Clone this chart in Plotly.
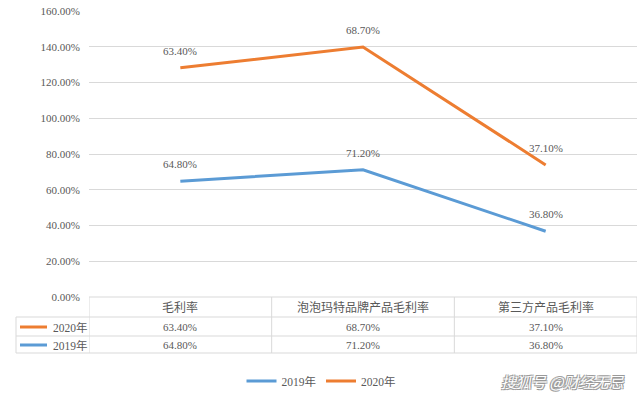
import plotly.graph_objects as go

categories = ["毛利率", "泡泡玛特品牌产品毛利率", "第三方产品毛利率"]
series_names = ["2019年", "2020年"]
values_2019 = [64.80, 71.20, 36.80]
values_2020 = [63.40, 68.70, 37.10]
y_ticks = [0, 20, 40, 60, 80, 100, 120, 140, 160]

W, H = 641, 397
FONT = "'Liberation Serif', 'Times New Roman', 'Noto Sans CJK SC', serif"
TXT = "#595959"
GRID = "#d9d9d9"
BLUE = "#5B9BD5"
ORANGE = "#ED7D31"

def px(x):
    return x / W

def py(y):
    return 1 - y / H

fig = go.Figure()
series = [(series_names[0], values_2019, BLUE), (series_names[1], values_2020, ORANGE)]
for name, vals, col in series:
    fig.add_trace(go.Scatter(
        x=categories, y=vals, name=name, mode="lines",
        stackgroup="one", fill="none",
        line=dict(color=col, width=3),
        hoverinfo="skip",
    ))

# data labels (stacked positions)
cum = [0.0] * len(categories)
for name, vals, col in series:
    for i, c in enumerate(categories):
        cum[i] += vals[i]
        fig.add_annotation(x=c, y=cum[i], xref="x", yref="y",
                           text=f"{vals[i]:.2f}%", showarrow=False,
                           xanchor="center", yanchor="middle",
                           yshift=17, font=dict(family=FONT, size=11, color=TXT))

shapes = []
line_style = dict(color=GRID, width=1)
shapes.append(dict(type="line", xref="paper", yref="paper", x0=px(89), x1=px(637), y0=py(297), y1=py(297), line=line_style))
for yy in (317, 336, 353):
    shapes.append(dict(type="line", xref="paper", yref="paper", x0=px(16), x1=px(637), y0=py(yy), y1=py(yy), line=line_style))
shapes.append(dict(type="line", xref="paper", yref="paper", x0=px(16), x1=px(16), y0=py(317), y1=py(353), line=line_style))
for xv in (-0.5, 0.5, 1.5, 2.5):
    shapes.append(dict(type="line", xref="x", yref="paper", x0=xv, x1=xv, y0=py(297), y1=py(353), line=line_style))

for c in categories:
    fig.add_annotation(x=c, y=py(307), xref="x", yref="paper", text=c, showarrow=False,
                       xanchor="center", yanchor="middle",
                       font=dict(family=FONT, size=12, color=TXT))
rows = [(series_names[1], values_2020, ORANGE, 327), (series_names[0], values_2019, BLUE, 345)]
for name, vals, col, yy in rows:
    shapes.append(dict(type="line", xref="paper", yref="paper", x0=px(20), x1=px(47), y0=py(yy), y1=py(yy),
                       line=dict(color=col, width=3)))
    fig.add_annotation(x=px(51), y=py(yy), xref="paper", yref="paper", text=name, showarrow=False,
                       xanchor="left", yanchor="middle", font=dict(family=FONT, size=11.5, color=TXT))
    for i, c in enumerate(categories):
        fig.add_annotation(x=c, y=py(yy), xref="x", yref="paper", text=f"{vals[i]:.2f}%", showarrow=False,
                           xanchor="center", yanchor="middle",
                           font=dict(family=FONT, size=11, color=TXT))

fig.add_annotation(x=px(563), y=py(381), xref="paper", yref="paper", text="<i>搜狐号 @财经无忌</i>",
                   showarrow=False, xanchor="center", yanchor="middle",
                   font=dict(family="'Noto Sans CJK SC'", size=15, color="#ffffff",
                             shadow="-1px -1px 0 #9a9a9a, 1px -1px 0 #9a9a9a, -1px 1px 0 #9a9a9a, 1px 1px 0 #9a9a9a"))

fig.update_layout(
    width=W, height=H,
    margin=dict(l=0, r=0, t=0, b=0, autoexpand=False),
    paper_bgcolor="white", plot_bgcolor="white",
    shapes=shapes,
    showlegend=True,
    legend=dict(orientation="h", x=px(321), xanchor="center", y=py(381), yanchor="middle",
                font=dict(family=FONT, size=11.5, color=TXT), itemwidth=30,
                traceorder="normal"),
    xaxis=dict(domain=[px(89), px(637)], range=[-0.5, 2.5], showticklabels=False, automargin=False,
               showgrid=False, zeroline=False, showline=False, fixedrange=True),
    yaxis=dict(domain=[py(297), py(11)], range=[0, 160], tickvals=y_ticks, automargin=False,
               ticktext=[f"{v:.2f}%" for v in y_ticks], showgrid=True, gridcolor=GRID,
               gridwidth=1, zeroline=False, showline=False, ticks="",
               ticklabelstandoff=8, fixedrange=True,
               tickfont=dict(family=FONT, size=11, color=TXT)),
)

fig.write_html("out.html", config={"displayModeBar": False},
               post_script="document.body.style.margin='0';")
